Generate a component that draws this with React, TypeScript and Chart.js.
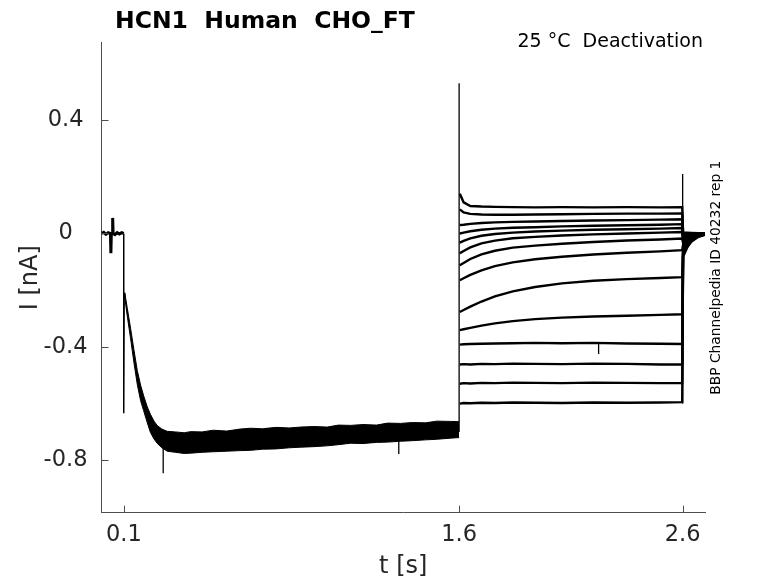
import { useEffect, useRef } from "react";
import { Chart, registerables } from "chart.js";

Chart.register(...registerables);

// axis ticks
const xTicks = [0.1, 1.6, 2.6];
const yTicks = [0.4, 0, -0.4, -0.8];

// holding current before the step (s, nA)
const baseT = [0, 0.01, 0.02, 0.03, 0.04, 0.042, 0.044, 0.048, 0.05, 0.052, 0.06, 0.07, 0.08, 0.09, 0.0995];
const baseI = [0, 0.004, -0.003, 0.003, 0, -0.07, 0.0, 0.0, 0.055, 0.0, -0.004, 0.003, -0.002, 0.003, 0];

// step onset
const stepT = [0.0995, 0.0995, 0.1015, 0.104];
const stepI = [0, -0.634, -0.212, -0.217];

// activation phase, overlapping sweeps drawn as a band
const bandT = [0.104, 0.115, 0.13, 0.145, 0.16, 0.175, 0.188, 0.205, 0.219, 0.235, 0.249, 0.27, 0.294, 0.33, 0.37, 0.398, 0.45, 0.5, 0.56, 0.62, 0.667, 0.72, 0.78, 0.84, 0.89, 0.95, 1.01, 1.06, 1.114, 1.17, 1.23, 1.28, 1.338, 1.39, 1.45, 1.5, 1.562, 1.6];
const bandUpper = [-0.208, -0.262, -0.334, -0.41, -0.483, -0.535, -0.571, -0.612, -0.638, -0.662, -0.677, -0.69, -0.698, -0.7, -0.703, -0.699, -0.7, -0.694, -0.697, -0.69, -0.687, -0.689, -0.684, -0.686, -0.683, -0.681, -0.683, -0.676, -0.677, -0.674, -0.676, -0.669, -0.67, -0.667, -0.668, -0.662, -0.663, -0.664];
const bandLower = [-0.226, -0.29, -0.37, -0.455, -0.532, -0.59, -0.624, -0.668, -0.702, -0.725, -0.74, -0.756, -0.768, -0.772, -0.776, -0.775, -0.772, -0.77, -0.768, -0.766, -0.765, -0.761, -0.76, -0.756, -0.754, -0.752, -0.749, -0.745, -0.74, -0.741, -0.737, -0.736, -0.733, -0.731, -0.728, -0.726, -0.722, -0.72];

// capacitive spikes and glitches (null breaks the line)
const spikeT = [0.276, 0.276, 0.276, 1.33, 1.33, 1.33, 1.6, 1.6, 1.6, 2.6, 2.6, 2.6, 2.224, 2.224];
const spikeI = [-0.74, -0.846, null, -0.72, -0.778, null, -0.7, 0.53, null, -0.6, 0.21, null, -0.39, -0.425];

// deactivation sweeps, 1.6 s to 2.7 s
const traceT = [1.603, 1.62, 1.65, 1.7, 1.76, 1.84, 1.94, 2.06, 2.2, 2.35, 2.5, 2.598, 2.602, 2.62, 2.64, 2.67, 2.7];
const trace1 = [0.14, 0.11, 0.097, 0.095, 0.094, 0.093, 0.092, 0.093, 0.092, 0.093, 0.092, 0.093, 0.004, 0.003, 0.002, 0.001, 0.0];
const trace2 = [0.085, 0.074, 0.069, 0.067, 0.066, 0.066, 0.067, 0.068, 0.069, 0.07, 0.07, 0.071, -0.002, -0.001, 0.0, 0.001, 0.0];
const trace3 = [0.03, 0.031, 0.034, 0.037, 0.039, 0.041, 0.042, 0.044, 0.046, 0.047, 0.049, 0.05, -0.008, -0.005, -0.003, -0.001, 0.0];
const trace4 = [0.0, 0.003, 0.008, 0.013, 0.017, 0.02, 0.022, 0.025, 0.027, 0.029, 0.031, 0.033, -0.014, -0.009, -0.005, -0.002, -0.001];
const trace5 = [-0.032, -0.026, -0.017, -0.008, -0.002, 0.003, 0.007, 0.01, 0.013, 0.015, 0.017, 0.019, -0.02, -0.012, -0.007, -0.003, -0.001];
const trace6 = [-0.07, -0.062, -0.049, -0.035, -0.025, -0.017, -0.012, -0.007, -0.003, 0.0, 0.003, 0.005, -0.026, -0.016, -0.009, -0.004, -0.001];
const trace7 = [-0.112, -0.104, -0.09, -0.074, -0.061, -0.05, -0.043, -0.036, -0.03, -0.025, -0.021, -0.018, -0.033, -0.02, -0.011, -0.005, -0.002];
const trace8 = [-0.165, -0.158, -0.146, -0.13, -0.115, -0.102, -0.091, -0.082, -0.074, -0.068, -0.063, -0.059, -0.04, -0.024, -0.014, -0.006, -0.002];
const trace9 = [-0.277, -0.27, -0.258, -0.24, -0.222, -0.204, -0.189, -0.176, -0.167, -0.161, -0.157, -0.154, -0.05, -0.03, -0.017, -0.007, -0.003];
const trace10 = [-0.341, -0.338, -0.333, -0.325, -0.317, -0.309, -0.302, -0.297, -0.293, -0.29, -0.287, -0.285, -0.058, -0.035, -0.02, -0.008, -0.003];
const trace11 = [-0.392, -0.391, -0.39, -0.389, -0.388, -0.387, -0.386, -0.387, -0.386, -0.388, -0.389, -0.39, -0.064, -0.039, -0.022, -0.009, -0.003];
const trace12 = [-0.462, -0.461, -0.462, -0.46, -0.461, -0.459, -0.46, -0.461, -0.459, -0.46, -0.462, -0.462, -0.07, -0.042, -0.024, -0.01, -0.004];
const trace13 = [-0.53, -0.528, -0.529, -0.527, -0.528, -0.526, -0.527, -0.528, -0.526, -0.527, -0.528, -0.528, -0.076, -0.046, -0.026, -0.011, -0.004];
const trace14 = [-0.6, -0.598, -0.599, -0.597, -0.598, -0.596, -0.597, -0.598, -0.596, -0.597, -0.596, -0.595, -0.082, -0.05, -0.028, -0.012, -0.004];
const traces = [trace1, trace2, trace3, trace4, trace5, trace6, trace7, trace8, trace9, trace10, trace11, trace12, trace13, trace14];

const FONT = "'DejaVu Sans'";

const pts = (t: number[], v: (number | null)[]) => t.map((x, i) => ({ x, y: v[i] }));

const decor = {
  id: "decor",
  afterDraw(chart: any) {
    const { ctx, chartArea: a, scales } = chart;
    ctx.save();
    // inward tick marks
    ctx.strokeStyle = "#4d4d4d";
    ctx.lineWidth = 1;
    ctx.beginPath();
    yTicks.forEach((v) => {
      const y = Math.round(scales.y.getPixelForValue(v)) + 0.5;
      ctx.moveTo(a.left, y);
      ctx.lineTo(a.left + 7, y);
    });
    xTicks.forEach((v) => {
      const x = Math.round(scales.x.getPixelForValue(v)) + 0.5;
      ctx.moveTo(x, a.bottom);
      ctx.lineTo(x, a.bottom - 7);
    });
    ctx.stroke();

    ctx.fillStyle = "#000";
    ctx.font = `bold 23.5px ${FONT}`;
    ctx.textAlign = "left";
    ctx.textBaseline = "alphabetic";
    ctx.fillText("HCN1  Human  CHO_FT", 115, 28);

    ctx.font = `19px ${FONT}`;
    ctx.textAlign = "right";
    ctx.fillText("25 °C  Deactivation", 703, 47);

    ctx.fillStyle = "#262626";
    ctx.font = `24px ${FONT}`;
    ctx.textAlign = "center";
    ctx.textBaseline = "middle";
    ctx.fillText("t [s]", (a.left + a.right) / 2, 567);

    ctx.save();
    ctx.translate(31, (a.top + a.bottom) / 2);
    ctx.rotate(-Math.PI / 2);
    ctx.fillText("I [nA]", 0, 0);
    ctx.restore();

    ctx.save();
    ctx.fillStyle = "#000";
    ctx.font = `13.8px ${FONT}`;
    ctx.translate(716, (a.top + a.bottom) / 2);
    ctx.rotate(-Math.PI / 2);
    ctx.fillText("BBP Channelpedia ID 40232 rep 1", 0, 0);
    ctx.restore();

    ctx.restore();
  },
};

export default function App() {
  const canvasRef = useRef<HTMLCanvasElement>(null);

  useEffect(() => {
    if (!canvasRef.current) return;
    const line = (data: any[], width: number, extra: any = {}) => ({
      data, borderColor: "#000", backgroundColor: "#000", borderWidth: width, pointRadius: 0, fill: false, spanGaps: false, ...extra,
    });
    const chart = new Chart(canvasRef.current, {
      type: "line",
      data: {
        datasets: [
          line(pts(baseT, baseI), 3),
          line(pts(stepT, stepI), 1.5),
          line(pts(bandT, bandUpper), 1),
          line(pts(bandT, bandLower), 1, { fill: "-1" }),
          line(pts(spikeT, spikeI), 1.3),
          ...traces.map((tr) => line(pts(traceT, tr), 2.4)),
        ],
      },
      options: {
        animation: false,
        responsive: true,
        maintainAspectRatio: false,
        parsing: false,
        layout: { padding: { top: 42.7, right: 73, left: 0, bottom: 0 } },
        plugins: { legend: { display: false }, tooltip: { enabled: false } },
        elements: { line: { tension: 0 } },
        scales: {
          x: {
            type: "linear",
            min: 0,
            max: 2.7,
            afterBuildTicks: (s: any) => { s.ticks = xTicks.map((value) => ({ value })); },
            afterFit: (s: any) => { s.height = 70.3; },
            grid: { display: true, drawOnChartArea: false, drawTicks: false },
            border: { display: true, color: "#4d4d4d", width: 1 },
            ticks: {
              autoSkip: false, maxRotation: 0, padding: 9, color: "#262626",
              font: { family: "DejaVu Sans", size: 22.5 },
              callback: (v: any) => String(v),
            },
          },
          y: {
            type: "linear",
            min: -0.985,
            max: 0.673,
            afterBuildTicks: (s: any) => { s.ticks = yTicks.map((value) => ({ value })); },
            afterFit: (s: any) => { s.width = 101.5; },
            grid: { display: true, drawOnChartArea: false, drawTicks: false },
            border: { display: true, color: "#4d4d4d", width: 1 },
            ticks: {
              crossAlign: "center", padding: 14, color: "#262626",
              font: { family: "DejaVu Sans", size: 22.5 },
              callback: (v: any) => (v === 0 ? "0" : Number(v).toFixed(1)),
            },
          },
        },
      },
      plugins: [decor],
    } as any);
    return () => chart.destroy();
  }, []);

  return (
    <div style={{ position: "fixed", left: 0, top: 0, width: 778, height: 583, background: "#fff" }}>
      <canvas ref={canvasRef}></canvas>
    </div>
  );
}
